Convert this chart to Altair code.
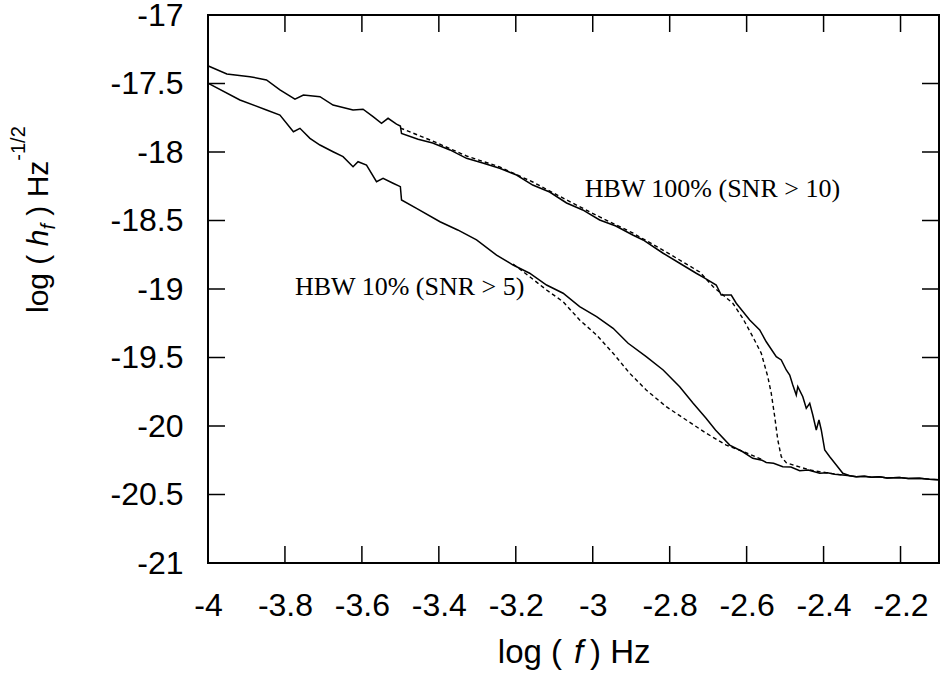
import altair as alt
import pandas as pd

# ---------------- data ----------------
upper_solid_x = [-3.999, -3.951, -3.891, -3.848, -3.813, -3.774, -3.752, -3.709, -3.675, -3.623,
                 -3.597, -3.571, -3.549, -3.532, -3.510, -3.500, -3.497, -3.454, -3.416, -3.371,
                 -3.328, -3.286, -3.242, -3.198, -3.156, -3.112, -3.068, -3.026, -2.982, -2.940,
                 -2.896, -2.869, -2.817, -2.774, -2.731, -2.709, -2.679, -2.666, -2.640, -2.627,
                 -2.592, -2.566, -2.549, -2.523, -2.510, -2.497, -2.488, -2.480, -2.471, -2.467,
                 -2.454, -2.445, -2.436, -2.428, -2.419, -2.412, -2.406, -2.397, -2.384, -2.367,
                 -2.350]
upper_solid_y = [-17.372, -17.431, -17.450, -17.474, -17.547, -17.615, -17.584, -17.596, -17.657, -17.693,
                 -17.688, -17.742, -17.791, -17.754, -17.796, -17.810, -17.864, -17.907, -17.934, -17.985,
                 -18.046, -18.080, -18.119, -18.168, -18.241, -18.292, -18.372, -18.423, -18.496, -18.540,
                 -18.606, -18.642, -18.739, -18.812, -18.885, -18.920, -18.971, -19.044, -19.044, -19.104,
                 -19.226, -19.299, -19.385, -19.494, -19.518, -19.591, -19.628, -19.701, -19.774, -19.713,
                 -19.786, -19.871, -19.834, -19.920, -20.029, -19.956, -20.029, -20.175, -20.224, -20.285,
                 -20.345]

lower_solid_x = [-3.999, -3.917, -3.848, -3.813, -3.778, -3.761, -3.735, -3.709, -3.675, -3.649,
                 -3.623, -3.610, -3.588, -3.562, -3.545, -3.519, -3.500, -3.497, -3.458, -3.397,
                 -3.351, -3.302, -3.250, -3.207, -3.164, -3.120, -3.077, -3.034, -2.990, -2.947,
                 -2.908, -2.861, -2.817, -2.774, -2.739, -2.706, -2.681, -2.644, -2.610, -2.584,
                 -2.560, -2.549, -2.530, -2.506, -2.485, -2.462, -2.440, -2.410, -2.390, -2.371,
                 -2.350]
lower_solid_y = [-17.499, -17.620, -17.693, -17.730, -17.852, -17.827, -17.900, -17.949, -17.998, -18.034,
                 -18.107, -18.071, -18.095, -18.217, -18.192, -18.228, -18.253, -18.350, -18.411, -18.509,
                 -18.569, -18.642, -18.752, -18.825, -18.885, -18.971, -19.031, -19.129, -19.202, -19.287,
                 -19.396, -19.494, -19.591, -19.713, -19.834, -19.942, -20.029, -20.139, -20.188, -20.236,
                 -20.250, -20.266, -20.272, -20.297, -20.300, -20.326, -20.322, -20.345, -20.342, -20.352,
                 -20.358]

# common high-frequency floor shared by both measured curves
tail_x = [-2.332, -2.315, -2.294, -2.275, -2.255, -2.235, -2.203, -2.180, -2.151, -2.125, -2.101]
tail_y = [-20.363, -20.370, -20.366, -20.374, -20.371, -20.379, -20.376, -20.384, -20.381, -20.389, -20.392]

upper_dashed_x = [-3.500, -3.416, -3.328, -3.242, -3.156, -3.068, -2.982, -2.896, -2.809, -2.722,
                  -2.687, -2.636, -2.610, -2.584, -2.562, -2.545, -2.536, -2.527, -2.519, -2.510,
                  -2.497, -2.471, -2.436, -2.410, -2.351]
upper_dashed_y = [-17.825, -17.920, -18.029, -18.109, -18.219, -18.350, -18.474, -18.591, -18.730, -18.876,
                  -18.983, -19.104, -19.214, -19.348, -19.469, -19.640, -19.761, -19.932, -20.102, -20.224,
                  -20.268, -20.292, -20.321, -20.334, -20.358]

lower_dashed_x = [-3.207, -3.164, -3.120, -3.077, -3.034, -2.990, -2.947, -2.904, -2.861, -2.809,
                  -2.757, -2.705, -2.653, -2.605, -2.560]
lower_dashed_y = [-18.818, -18.910, -19.007, -19.093, -19.226, -19.336, -19.469, -19.615, -19.737, -19.859,
                  -19.956, -20.053, -20.139, -20.190, -20.245]

labels = ["HBW 100% (SNR > 10)", "HBW 10% (SNR > 5)"]
label_x = [-3.021, -3.774]
label_y = [-18.328, -19.047]

x_label_values = [-4, -3.8, -3.6, -3.4, -3.2, -3, -2.8, -2.6, -2.4, -2.2]
y_label_values = [-17, -17.5, -18, -18.5, -19, -19.5, -20, -20.5, -21]
x_tick_values = [-3.8, -3.6, -3.4, -3.2, -3, -2.8, -2.6, -2.4, -2.2]
y_tick_values = [-17.5, -18, -18.5, -19, -19.5, -20, -20.5]

# ---------------- tables ----------------
solid_df = pd.concat([
    pd.DataFrame({"x": upper_solid_x + tail_x, "y": upper_solid_y + tail_y, "series": "HBW 100%"}),
    pd.DataFrame({"x": lower_solid_x + tail_x, "y": lower_solid_y + tail_y, "series": "HBW 10%"}),
], ignore_index=True)
dashed_df = pd.concat([
    pd.DataFrame({"x": upper_dashed_x, "y": upper_dashed_y, "series": "HBW 100%"}),
    pd.DataFrame({"x": lower_dashed_x, "y": lower_dashed_y, "series": "HBW 10%"}),
], ignore_index=True)
label_df = pd.DataFrame({"x": label_x, "y": label_y, "label": labels})
xt_df = pd.DataFrame({"x": x_tick_values})
yt_df = pd.DataFrame({"y": y_tick_values})

W, H = 731, 548
SANS = "Liberation Sans"
SERIF = "Liberation Serif"

xscale = alt.Scale(domain=[-4, -2.1], nice=False, zero=False)
yscale = alt.Scale(domain=[-21, -17], nice=False, zero=False)
label_expr = "datum.value < 0 ? '-' + format(-datum.value, '') : format(datum.value, '')"

x_axis = alt.Axis(values=x_label_values, labelExpr=label_expr, title=None, ticks=False, tickSize=0,
                  domain=False, grid=False, labelFontSize=32, labelFont=SANS, labelColor="black",
                  labelPadding=27, labelFlush=False, labelOverlap=False)
y_axis = alt.Axis(values=y_label_values, labelExpr=label_expr, title=None, ticks=False, tickSize=0,
                  domain=False, grid=False, labelFontSize=32, labelFont=SANS, labelColor="black",
                  labelPadding=25, labelFlush=False, labelOverlap=False)


def X():
    return alt.X("x:Q", scale=xscale, axis=x_axis, title=None)


def Y():
    return alt.Y("y:Q", scale=yscale, axis=y_axis, title=None)


dashed = alt.Chart(dashed_df).mark_line(color="black", strokeWidth=1.4, strokeDash=[4, 3]).encode(
    x=X(), y=Y(), detail="series:N",
)
solid = alt.Chart(solid_df).mark_line(color="black", strokeWidth=1.5).encode(
    x=X(), y=Y(), detail="series:N",
)

TL = 17
tick_style = dict(color="black", strokeWidth=1.5)
xt_bottom = alt.Chart(xt_df).mark_rule(**tick_style).encode(
    x=X(), y=alt.value(H), y2=alt.value(H - TL))
xt_top = alt.Chart(xt_df).mark_rule(**tick_style).encode(
    x=X(), y=alt.value(0), y2=alt.value(TL))
yt_left = alt.Chart(yt_df).mark_rule(**tick_style).encode(
    y=Y(), x=alt.value(0), x2=alt.value(TL))
yt_right = alt.Chart(yt_df).mark_rule(**tick_style).encode(
    y=Y(), x=alt.value(W), x2=alt.value(W - TL))

annot = alt.Chart(label_df).mark_text(font=SERIF, fontSize=26, align="left", baseline="alphabetic",
                                      color="black").encode(
    x=X(), y=Y(), text="label:N",
)


def piece(txt, px, py, size, italic=False, angle=0, align="left"):
    kw = dict(font=SANS, fontSize=size, align=align, baseline="alphabetic", color="black")
    if italic:
        kw["fontStyle"] = "italic"
    if angle:
        kw["angle"] = angle
    return alt.Chart(pd.DataFrame({"t": [txt]})).mark_text(**kw).encode(
        text="t:N", x=alt.value(px), y=alt.value(py))


# x axis title: log ( f ) Hz
xt1 = piece("log (", 354, 648, 33, align="right")
xt2 = piece("f", 370.5, 648, 33, italic=True, align="center")
xt3 = piece(") Hz", 382, 648, 33)

# y axis title: log ( h_f ) Hz^-1/2 (rotated)
yt1 = piece("log (", -160, 298, 30, angle=270)
yt2 = piece("h", -160, 231.3, 30, italic=True, angle=270)
yt3 = piece("f", -153, 214.6, 20, italic=True, angle=270)
yt4 = piece(") Hz", -160, 200.7, 30, angle=270)
yt5 = piece("-1/2", -183, 145.7, 20, angle=270)

chart = alt.layer(
    dashed, solid, xt_bottom, xt_top, yt_left, yt_right, annot,
    xt1, xt2, xt3, yt1, yt2, yt3, yt4, yt5,
).properties(
    width=W, height=H,
    autosize=alt.AutoSizeParams(type="none"),
    padding={"left": 208, "top": 15, "right": 2, "bottom": 112},
    background="white",
).configure_view(stroke="black", strokeWidth=2)

chart.save("out.html", embed_options={"renderer": "svg", "actions": False})
